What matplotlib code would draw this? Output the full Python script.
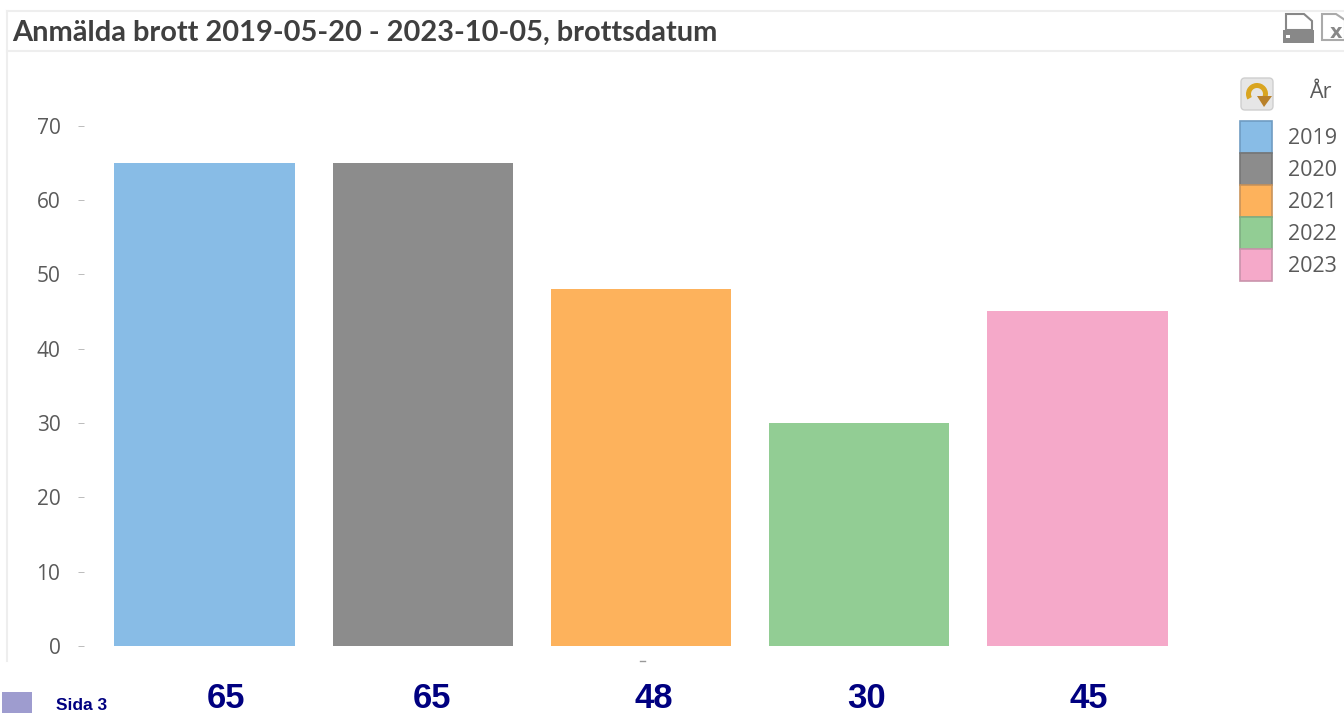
import matplotlib
matplotlib.use("Agg")
import matplotlib.pyplot as plt
from matplotlib.patches import Rectangle, Polygon, Wedge, FancyBboxPatch

W, H = 1344, 713

years = ["2019", "2020", "2021", "2022", "2023"]
counts = [65, 65, 48, 30, 45]
colors = ["#88BCE6", "#8C8C8C", "#FDB25C", "#92CD94", "#F5A9C9"]
edge_colors = ["#6F9CC2", "#767676", "#C9935A", "#7FAE82", "#C993AB"]
yticks = [0, 10, 20, 30, 40, 50, 60, 70]
title = "Anmälda brott 2019-05-20 - 2023-10-05, brottsdatum"
page_label = "Sida 3"
# the numbers under the bars are not centred on them in the original
count_label_x = [226, 432, 654, 867, 1089]


def fx(px):
    return px / W


def fy(py):
    return 1 - py / H


fig = plt.figure(figsize=(W / 100, H / 100), dpi=100)
fig.patch.set_facecolor("white")

ax = fig.add_axes([fx(84), fy(646), (1190 - 84) / W, (646 - 125.5) / H])
ax.patch.set_alpha(0)
ax.bar(range(len(counts)), counts, width=0.826, color=colors)
ax.set_xlim(-0.552, 4.5155)
ax.set_ylim(0, 70)
ax.set_xticks([])
ax.set_yticks(yticks)
ax.tick_params(axis="y", length=4, width=0.7, color="#BBBBBB", pad=13, labelcolor="#5A5A5A")
for label in ax.get_yticklabels():
    label.set_fontfamily("Open Sans")
    label.set_fontsize(15)
    label.set_ha("right")
for s in ax.spines.values():
    s.set_visible(False)

# picture-pixel overlay for the frame, icons and legend
over = fig.add_axes([0, 0, 1, 1], zorder=5)
over.set_xlim(0, W)
over.set_ylim(H, 0)
over.axis("off")

over.plot([7, W], [11, 11], color="#EEEEEE", lw=1.5)
over.plot([7, W], [51, 51], color="#EEEEEE", lw=1.5)
over.plot([7, 7], [11, 661], color="#EEEEEE", lw=1.5)
over.text(12, 33, title, fontfamily="Lato", fontweight="bold", fontsize=20.9,
          color="#3F3F3F", va="center", ha="left")

# print icon
over.add_patch(Polygon([(1286, 14), (1304, 14), (1312, 21), (1312, 30), (1286, 30)], closed=True,
                       facecolor="white", edgecolor="#888888", lw=1.5))
over.add_patch(Rectangle((1283, 30), 31, 13, facecolor="#888888", edgecolor="none"))
over.add_patch(Rectangle((1286, 35), 4, 2.5, facecolor="white", edgecolor="none"))
# export icon, cut by the picture edge
over.add_patch(Polygon([(1322, 14), (1336, 14), (1345, 20), (1345, 40), (1322, 40)], closed=True,
                       facecolor="white", edgecolor="#AAAAAA", lw=1.5))
over.text(1336, 33, "x", fontsize=14, fontweight="bold", color="#888888", ha="center", va="center")

# legend
over.add_patch(FancyBboxPatch((1241, 78), 32, 32, boxstyle="round,pad=0,rounding_size=4",
                              facecolor="#E6E6E6", edgecolor="#CFCFCF", lw=1))
over.add_patch(Wedge((1257, 94), 11, 150, 20, width=5, facecolor="#D9A520", edgecolor="none"))
over.add_patch(Polygon([(1257, 96), (1272, 96), (1264, 107)], closed=True, facecolor="#B9812A", edgecolor="none"))
over.text(1320, 93, "År", fontfamily="Open Sans", fontsize=15.5, color="#5A5A5A", ha="center", va="center")
for i, year in enumerate(years):
    over.add_patch(Rectangle((1240, 121 + 32 * i), 32, 32, facecolor=colors[i], edgecolor=edge_colors[i], lw=1.2))
    over.text(1288, 138 + 32 * i, year, fontfamily="Open Sans", fontsize=15.5, color="#5A5A5A",
              ha="left", va="center")

# footer
over.add_patch(Rectangle((2, 692), 30, 22, facecolor="#9E9CCF", edgecolor="none"))
over.text(56, 706, page_label, fontfamily="Liberation Sans", fontweight="bold", fontsize=12.5,
          color="#000080", ha="left", va="center")
for x, n in zip(count_label_x, counts):
    over.text(x, 698, str(n), fontfamily="Liberation Sans", fontweight="bold", fontsize=25,
              color="#000080", ha="center", va="center")
over.plot([640, 645], [661, 661], color="#999999", lw=1)

fig.savefig("out.png", dpi=100)
